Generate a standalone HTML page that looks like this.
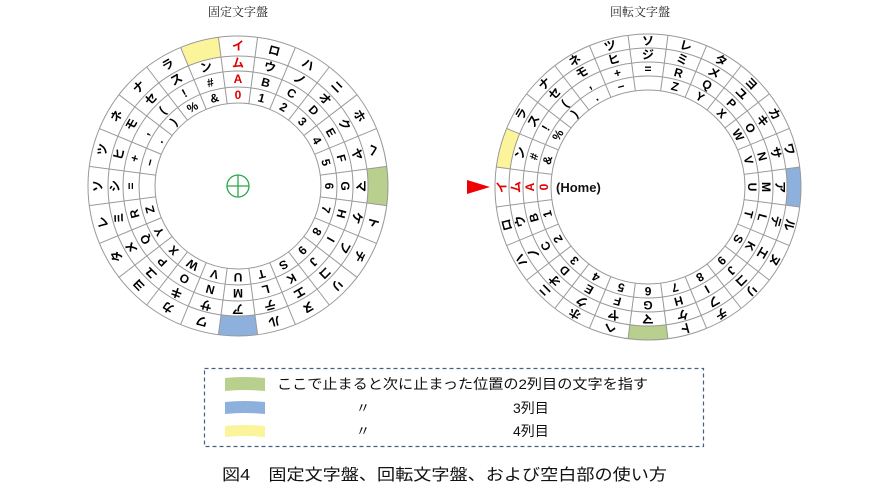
<!DOCTYPE html>
<html><head><meta charset="utf-8"><style>
html,body{margin:0;padding:0;background:#fff}
svg{display:block}
.t{font-family:"Liberation Sans","Noto Sans CJK JP",sans-serif;font-size:12px;text-anchor:middle;fill:#000;font-weight:bold}
.r{fill:#e00000}
.j{font-family:"Liberation Sans","Noto Sans CJK JP",sans-serif;fill:#111}
.s{font-family:"Liberation Serif","Noto Serif CJK SC",serif;fill:#222;font-size:12px;text-anchor:middle}
</style></head><body>
<svg width="890" height="500" viewBox="0 0 890 500" xmlns="http://www.w3.org/2000/svg">
<text class="s" x="238" y="16">固定文字盤</text>
<text class="s" x="640" y="16">回転文字盤</text>

<!-- LEFT DIAL -->
<g>
<path d="M218.42,37.3 A150 150 0 0 1 257.58,37.3 L254.97,57.1 A130 130 0 0 0 221.03,57.1Z" fill="#fbf49a" transform="rotate(-15 238 186)"/>
<path d="M218.42,37.3 A150 150 0 0 1 257.58,37.3 L254.97,57.1 A130 130 0 0 0 221.03,57.1Z" fill="#b8cf8e" transform="rotate(90 238 186)"/>
<path d="M218.42,37.3 A150 150 0 0 1 257.58,37.3 L254.97,57.1 A130 130 0 0 0 221.03,57.1Z" fill="#8eb0dd" transform="rotate(180 238 186)"/>
<g stroke="#999" stroke-width="1">
<line x1="238" y1="36" x2="238" y2="336" transform="rotate(7.5 238 186)"/>
<line x1="238" y1="36" x2="238" y2="336" transform="rotate(22.5 238 186)"/>
<line x1="238" y1="36" x2="238" y2="336" transform="rotate(37.5 238 186)"/>
<line x1="238" y1="36" x2="238" y2="336" transform="rotate(52.5 238 186)"/>
<line x1="238" y1="36" x2="238" y2="336" transform="rotate(67.5 238 186)"/>
<line x1="238" y1="36" x2="238" y2="336" transform="rotate(82.5 238 186)"/>
<line x1="238" y1="36" x2="238" y2="336" transform="rotate(97.5 238 186)"/>
<line x1="238" y1="36" x2="238" y2="336" transform="rotate(112.5 238 186)"/>
<line x1="238" y1="36" x2="238" y2="336" transform="rotate(127.5 238 186)"/>
<line x1="238" y1="36" x2="238" y2="336" transform="rotate(142.5 238 186)"/>
<line x1="238" y1="36" x2="238" y2="336" transform="rotate(157.5 238 186)"/>
<line x1="238" y1="36" x2="238" y2="336" transform="rotate(172.5 238 186)"/>
</g>
<circle cx="238" cy="186" r="83" fill="#fff" stroke="#999"/>
<g fill="none" stroke="#999">
<circle cx="238" cy="186" r="150"/><circle cx="238" cy="186" r="130"/><circle cx="238" cy="186" r="115"/><circle cx="238" cy="186" r="99"/>
</g>
<g stroke="#2aa84a" stroke-width="1.3" fill="none">
<circle cx="238" cy="186" r="11"/><line x1="227" y1="186" x2="249" y2="186"/><line x1="238" y1="175" x2="238" y2="197"/>
</g>
<g>
<g transform="rotate(0 238 186)"><text class="t r" x="238" y="50">イ</text><text class="t r" x="238" y="67">ム</text><text class="t r" x="238" y="83">A</text><text class="t r" x="238" y="99">0</text></g>
<g transform="rotate(15 238 186)"><text class="t" x="238" y="50">ロ</text><text class="t" x="238" y="67">ウ</text><text class="t" x="238" y="83">B</text><text class="t" x="238" y="99">1</text></g>
<g transform="rotate(30 238 186)"><text class="t" x="238" y="50">ハ</text><text class="t" x="238" y="67">ノ</text><text class="t" x="238" y="83">C</text><text class="t" x="238" y="99">2</text></g>
<g transform="rotate(45 238 186)"><text class="t" x="238" y="50">ニ</text><text class="t" x="238" y="67">オ</text><text class="t" x="238" y="83">D</text><text class="t" x="238" y="99">3</text></g>
<g transform="rotate(60 238 186)"><text class="t" x="238" y="50">ホ</text><text class="t" x="238" y="67">ク</text><text class="t" x="238" y="83">E</text><text class="t" x="238" y="99">4</text></g>
<g transform="rotate(75 238 186)"><text class="t" x="238" y="50">ヘ</text><text class="t" x="238" y="67">ヤ</text><text class="t" x="238" y="83">F</text><text class="t" x="238" y="99">5</text></g>
<g transform="rotate(90 238 186)"><text class="t" x="238" y="67">マ</text><text class="t" x="238" y="83">G</text><text class="t" x="238" y="99">6</text></g>
<g transform="rotate(105 238 186)"><text class="t" x="238" y="50">ト</text><text class="t" x="238" y="67">ケ</text><text class="t" x="238" y="83">H</text><text class="t" x="238" y="99">7</text></g>
<g transform="rotate(120 238 186)"><text class="t" x="238" y="50">チ</text><text class="t" x="238" y="67">フ</text><text class="t" x="238" y="83">I</text><text class="t" x="238" y="99">8</text></g>
<g transform="rotate(135 238 186)"><text class="t" x="238" y="50">リ</text><text class="t" x="238" y="67">コ</text><text class="t" x="238" y="83">J</text><text class="t" x="238" y="99">9</text></g>
<g transform="rotate(150 238 186)"><text class="t" x="238" y="50">ヌ</text><text class="t" x="238" y="67">エ</text><text class="t" x="238" y="83">K</text><text class="t" x="238" y="99">S</text></g>
<g transform="rotate(165 238 186)"><text class="t" x="238" y="50">ル</text><text class="t" x="238" y="67">テ</text><text class="t" x="238" y="83">L</text><text class="t" x="238" y="99">T</text></g>
<g transform="rotate(180 238 186)"><text class="t" x="238" y="67">ア</text><text class="t" x="238" y="83">M</text><text class="t" x="238" y="99">U</text></g>
<g transform="rotate(195 238 186)"><text class="t" x="238" y="50">ワ</text><text class="t" x="238" y="67">サ</text><text class="t" x="238" y="83">N</text><text class="t" x="238" y="99">V</text></g>
<g transform="rotate(210 238 186)"><text class="t" x="238" y="50">カ</text><text class="t" x="238" y="67">キ</text><text class="t" x="238" y="83">O</text><text class="t" x="238" y="99">W</text></g>
<g transform="rotate(225 238 186)"><text class="t" x="238" y="50">ヨ</text><text class="t" x="238" y="67">ユ</text><text class="t" x="238" y="83">P</text><text class="t" x="238" y="99">X</text></g>
<g transform="rotate(240 238 186)"><text class="t" x="238" y="50">タ</text><text class="t" x="238" y="67">メ</text><text class="t" x="238" y="83">Q</text><text class="t" x="238" y="99">Y</text></g>
<g transform="rotate(255 238 186)"><text class="t" x="238" y="50">レ</text><text class="t" x="238" y="67">ミ</text><text class="t" x="238" y="83">R</text><text class="t" x="238" y="99">Z</text></g>
<g transform="rotate(270 238 186)"><text class="t" x="238" y="50">ソ</text><text class="t" x="238" y="67">シ</text><text class="t" x="238" y="83">=</text></g>
<g transform="rotate(285 238 186)"><text class="t" x="238" y="50">ツ</text><text class="t" x="238" y="67">ヒ</text><text class="t" x="238" y="83">+</text><text class="t" x="238" y="99">−</text></g>
<g transform="rotate(300 238 186)"><text class="t" x="238" y="50">ネ</text><text class="t" x="238" y="67">モ</text><text class="t" x="238" y="83">,</text><text class="t" x="238" y="99">.</text></g>
<g transform="rotate(315 238 186)"><text class="t" x="238" y="50">ナ</text><text class="t" x="238" y="67">セ</text><text class="t" x="238" y="83">(</text><text class="t" x="238" y="99">)</text></g>
<g transform="rotate(330 238 186)"><text class="t" x="238" y="50">ラ</text><text class="t" x="238" y="67">ス</text><text class="t" x="238" y="83">!</text><text class="t" x="238" y="99">%</text></g>
<g transform="rotate(345 238 186)"><text class="t" x="238" y="67">ン</text><text class="t" x="238" y="83">#</text><text class="t" x="238" y="99">&amp;</text></g>
</g>
</g>

<!-- RIGHT DIAL -->
<g>
<path d="M628.03,35.3 A153 153 0 0 1 667.97,35.3 L666.14,49.2 A139 139 0 0 0 629.86,49.2Z" fill="#fbf49a" transform="rotate(285 648 187)"/>
<path d="M628.03,35.3 A153 153 0 0 1 667.97,35.3 L666.14,49.2 A139 139 0 0 0 629.86,49.2Z" fill="#b8cf8e" transform="rotate(180 648 187)"/>
<path d="M628.03,35.3 A153 153 0 0 1 667.97,35.3 L666.14,49.2 A139 139 0 0 0 629.86,49.2Z" fill="#8eb0dd" transform="rotate(90 648 187)"/>
<g stroke="#999" stroke-width="1">
<line x1="648" y1="34" x2="648" y2="340" transform="rotate(7.5 648 187)"/>
<line x1="648" y1="34" x2="648" y2="340" transform="rotate(22.5 648 187)"/>
<line x1="648" y1="34" x2="648" y2="340" transform="rotate(37.5 648 187)"/>
<line x1="648" y1="34" x2="648" y2="340" transform="rotate(52.5 648 187)"/>
<line x1="648" y1="34" x2="648" y2="340" transform="rotate(67.5 648 187)"/>
<line x1="648" y1="34" x2="648" y2="340" transform="rotate(82.5 648 187)"/>
<line x1="648" y1="34" x2="648" y2="340" transform="rotate(97.5 648 187)"/>
<line x1="648" y1="34" x2="648" y2="340" transform="rotate(112.5 648 187)"/>
<line x1="648" y1="34" x2="648" y2="340" transform="rotate(127.5 648 187)"/>
<line x1="648" y1="34" x2="648" y2="340" transform="rotate(142.5 648 187)"/>
<line x1="648" y1="34" x2="648" y2="340" transform="rotate(157.5 648 187)"/>
<line x1="648" y1="34" x2="648" y2="340" transform="rotate(172.5 648 187)"/>
</g>
<circle cx="648" cy="187" r="97" fill="#fff" stroke="#999"/>
<g fill="none" stroke="#999">
<circle cx="648" cy="187" r="153"/><circle cx="648" cy="187" r="139"/><circle cx="648" cy="187" r="125"/><circle cx="648" cy="187" r="111"/>
</g>
<g>
<g transform="rotate(270 648 187)"><text class="t r" x="648" y="45">イ</text><text class="t r" x="648" y="59">ム</text><text class="t r" x="648" y="73">A</text><text class="t r" x="648" y="87">0</text></g>
<g transform="rotate(255 648 187)"><text class="t" x="648" y="45">ロ</text><text class="t" x="648" y="59">ウ</text><text class="t" x="648" y="73">B</text><text class="t" x="648" y="87">1</text></g>
<g transform="rotate(240 648 187)"><text class="t" x="648" y="45">ハ</text><text class="t" x="648" y="59">ノ</text><text class="t" x="648" y="73">C</text><text class="t" x="648" y="87">2</text></g>
<g transform="rotate(225 648 187)"><text class="t" x="648" y="45">ニ</text><text class="t" x="648" y="59">オ</text><text class="t" x="648" y="73">D</text><text class="t" x="648" y="87">3</text></g>
<g transform="rotate(210 648 187)"><text class="t" x="648" y="45">ホ</text><text class="t" x="648" y="59">ク</text><text class="t" x="648" y="73">E</text><text class="t" x="648" y="87">4</text></g>
<g transform="rotate(195 648 187)"><text class="t" x="648" y="45">ヘ</text><text class="t" x="648" y="59">ヤ</text><text class="t" x="648" y="73">F</text><text class="t" x="648" y="87">5</text></g>
<g transform="rotate(180 648 187)"><text class="t" x="648" y="59">マ</text><text class="t" x="648" y="73">G</text><text class="t" x="648" y="87">6</text></g>
<g transform="rotate(165 648 187)"><text class="t" x="648" y="45">ト</text><text class="t" x="648" y="59">ケ</text><text class="t" x="648" y="73">H</text><text class="t" x="648" y="87">7</text></g>
<g transform="rotate(150 648 187)"><text class="t" x="648" y="45">チ</text><text class="t" x="648" y="59">フ</text><text class="t" x="648" y="73">I</text><text class="t" x="648" y="87">8</text></g>
<g transform="rotate(135 648 187)"><text class="t" x="648" y="45">リ</text><text class="t" x="648" y="59">コ</text><text class="t" x="648" y="73">J</text><text class="t" x="648" y="87">9</text></g>
<g transform="rotate(120 648 187)"><text class="t" x="648" y="45">ヌ</text><text class="t" x="648" y="59">エ</text><text class="t" x="648" y="73">K</text><text class="t" x="648" y="87">S</text></g>
<g transform="rotate(105 648 187)"><text class="t" x="648" y="45">ル</text><text class="t" x="648" y="59">テ</text><text class="t" x="648" y="73">L</text><text class="t" x="648" y="87">T</text></g>
<g transform="rotate(90 648 187)"><text class="t" x="648" y="59">ア</text><text class="t" x="648" y="73">M</text><text class="t" x="648" y="87">U</text></g>
<g transform="rotate(75 648 187)"><text class="t" x="648" y="45">ワ</text><text class="t" x="648" y="59">サ</text><text class="t" x="648" y="73">N</text><text class="t" x="648" y="87">V</text></g>
<g transform="rotate(60 648 187)"><text class="t" x="648" y="45">カ</text><text class="t" x="648" y="59">キ</text><text class="t" x="648" y="73">O</text><text class="t" x="648" y="87">W</text></g>
<g transform="rotate(45 648 187)"><text class="t" x="648" y="45">ヨ</text><text class="t" x="648" y="59">ユ</text><text class="t" x="648" y="73">P</text><text class="t" x="648" y="87">X</text></g>
<g transform="rotate(30 648 187)"><text class="t" x="648" y="45">タ</text><text class="t" x="648" y="59">メ</text><text class="t" x="648" y="73">Q</text><text class="t" x="648" y="87">Y</text></g>
<g transform="rotate(15 648 187)"><text class="t" x="648" y="45">レ</text><text class="t" x="648" y="59">ミ</text><text class="t" x="648" y="73">R</text><text class="t" x="648" y="87">Z</text></g>
<g transform="rotate(0 648 187)"><text class="t" x="648" y="45">ソ</text><text class="t" x="648" y="59">ジ</text><text class="t" x="648" y="73">=</text></g>
<g transform="rotate(-15 648 187)"><text class="t" x="648" y="45">ツ</text><text class="t" x="648" y="59">ヒ</text><text class="t" x="648" y="73">+</text><text class="t" x="648" y="87">−</text></g>
<g transform="rotate(-30 648 187)"><text class="t" x="648" y="45">ネ</text><text class="t" x="648" y="59">モ</text><text class="t" x="648" y="73">,</text><text class="t" x="648" y="87">.</text></g>
<g transform="rotate(-45 648 187)"><text class="t" x="648" y="45">ナ</text><text class="t" x="648" y="59">セ</text><text class="t" x="648" y="73">(</text><text class="t" x="648" y="87">)</text></g>
<g transform="rotate(-60 648 187)"><text class="t" x="648" y="45">ラ</text><text class="t" x="648" y="59">ス</text><text class="t" x="648" y="73">!</text><text class="t" x="648" y="87">%</text></g>
<g transform="rotate(-75 648 187)"><text class="t" x="648" y="59">ン</text><text class="t" x="648" y="73">#</text><text class="t" x="648" y="87">&amp;</text></g>
</g>
</g>
<polygon points="467,180 490,187 467,194" fill="#f00000"/>
<text class="j" x="556" y="192" font-size="13" font-weight="bold">(Home)</text>

<!-- legend -->
<rect x="204.5" y="368.5" width="499" height="78" fill="none" stroke="#4a5f80" stroke-width="1.2" stroke-dasharray="4 3"/>
<path d="M225,378 Q245,376 265,378 L265,391 Q245,389 225,391Z" fill="#b8cf8e"/>
<path d="M225,402 Q245,400 265,402 L265,414 Q245,412 225,414Z" fill="#8eb0dd"/>
<path d="M225,426 Q245,424 265,426 L265,437 Q245,435 225,437Z" fill="#fbf49a"/>
<text class="j" x="277" y="389" font-size="14" textLength="371" lengthAdjust="spacingAndGlyphs">ここで止まると次に止まった位置の2列目の文字を指す</text>
<text class="j" x="356" y="413" font-size="14">〃</text>
<text class="j" x="513" y="413" font-size="14">3列目</text>
<text class="j" x="356" y="436" font-size="14">〃</text>
<text class="j" x="513" y="436" font-size="14">4列目</text>
<text class="j" x="222" y="480" font-size="16" textLength="445" lengthAdjust="spacingAndGlyphs">図4　固定文字盤、回転文字盤、および空白部の使い方</text>
</svg>
</body></html>
